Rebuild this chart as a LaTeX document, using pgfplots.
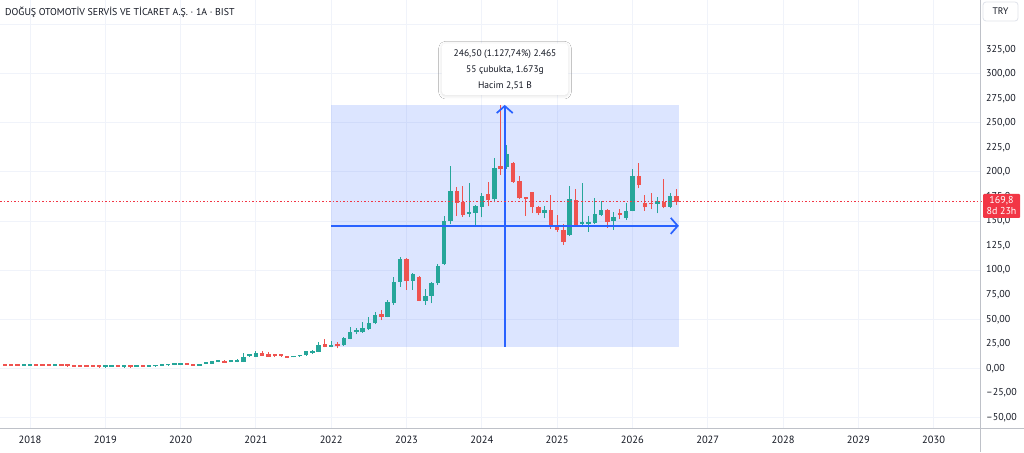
\documentclass[border=0pt]{standalone}
\usepackage{fontspec}
\setmainfont{PT Sans}
\usepackage{pgfplots}
\pgfplotsset{compat=1.18}
\usepackage{pgfplotstable}
\usetikzlibrary{arrows.meta,shadows.blur}

\definecolor{upc}{RGB}{38,166,154}
\definecolor{dnc}{RGB}{239,83,80}
\definecolor{txt}{RGB}{19,23,34}
\definecolor{gridc}{RGB}{240,243,250}
\definecolor{tvblue}{RGB}{41,98,255}
\definecolor{pricered}{RGB}{242,54,69}
\definecolor{axisc}{RGB}{190,193,200}
\definecolor{btnc}{RGB}{224,227,235}

% monthly candles, m = months since 2018-01
\pgfplotstableread{
m o h l c
-1 2.6 3.0 2.5 2.9
0 2.6 3.0 2.5 2.9
4 2.5 2.9 2.4 2.8
12 1.1 1.5 1.0 1.4
13 1.5 1.9 1.4 1.8
15 1.1 1.5 1.0 1.4
17 1.5 1.9 1.4 1.8
19 1.6 2.0 1.5 1.9
20 1.9 2.5 1.8 2.4
21 2.4 3.1 2.3 3.0
22 3.0 3.5 2.9 3.4
23 3.4 3.9 3.3 3.8
24 3.5 5.4 3.3 5.0
27 2.8 4.8 2.5 4.6
28 4.6 5.3 4.3 5.0
29 4.5 7.6 4.2 7.3
30 6.2 7.6 6.0 7.2
32 6.2 7.0 6.0 6.8
33 6.2 9.2 6.0 8.0
34 6.3 15.9 6.0 11.8
35 12.4 14.5 12.0 13.9
36 12.0 18.0 11.5 15.9
42 11.2 13.0 11.0 12.5
43 12.2 14.0 12.0 13.5
44 13.2 17.8 13.0 17.3
45 15.9 18.5 14.5 18.0
46 17.0 26.4 16.5 24.0
48 21.86 27.5 21.2 23.8
50 23.4 32.2 22.8 31.2
51 30.2 41.8 29.5 36.7
52 37.3 40.8 34.6 39.0
53 36.7 47.5 36.0 40.8
54 39.7 52.0 39.0 45.8
55 45.8 57.7 45.0 54.3
57 52.6 69.6 52.0 67.9
58 66.2 92.7 64.5 88.2
59 88.2 113.7 83.2 111.4
61 89.3 97.4 79.8 95.8
63 68.9 80.8 64.5 74.0
64 74.0 88.2 66.2 86.6
65 86.6 106.0 85.0 104.2
66 106.3 155.0 105.0 150.4
67 150.4 206.0 146.7 180.6
70 157.2 188.5 153.8 158.5
71 158.5 166.0 144.3 165.4
72 164.6 178.3 153.8 175.9
74 172.2 214.0 169.0 203.8
76 204.8 227.5 203.0 218.3
82 158.0 165.4 152.8 161.3
86 135.8 185.7 135.0 172.2
88 147.0 188.5 146.0 148.5
89 147.0 155.0 139.0 148.0
90 148.3 174.0 147.0 157.2
91 156.2 170.0 155.0 161.3
93 150.0 159.0 141.0 153.9
95 152.8 168.0 151.0 160.3
96 160.6 202.8 160.0 196.0
100 167.4 174.8 157.9 170.8
102 164.6 179.0 163.0 175.5
}\up

\pgfplotstableread{
m o h l c
-4 2.9 3.0 2.5 2.6
-3 2.9 3.1 2.5 2.6
-2 2.8 3.0 2.5 2.6
1 2.9 3.0 2.5 2.6
2 2.8 2.9 2.4 2.5
3 2.8 2.9 2.4 2.5
5 2.8 2.9 2.4 2.5
6 2.7 2.8 2.3 2.4
7 2.0 2.1 1.6 1.7
8 1.9 2.0 1.5 1.6
9 1.9 2.0 1.5 1.6
10 1.8 1.9 1.4 1.5
11 1.4 1.5 1.0 1.1
14 1.8 1.9 1.4 1.5
16 1.4 1.5 1.0 1.1
18 1.9 2.0 1.5 1.6
25 5.0 5.4 3.6 3.8
26 3.8 4.0 2.4 2.8
31 7.6 8.0 5.4 5.6
37 15.9 18.0 12.5 13.0
38 14.5 17.0 11.5 12.0
39 13.5 14.5 11.5 12.5
40 13.5 14.2 12.0 12.5
41 12.2 12.5 10.4 10.8
47 25.1 29.4 21.4 21.9
49 24.4 27.1 20.4 23.0
56 55.3 59.8 49.0 52.6
60 111.4 112.5 80.0 89.3
62 93.3 94.0 68.5 68.9
68 180.6 184.4 155.0 168.7
69 169.7 186.0 154.5 156.2
73 177.3 190.0 165.0 171.5
75 206.1 268.3 197.0 203.4
77 209.5 210.5 189.0 190.0
78 190.8 196.4 172.0 173.2
79 174.2 175.0 155.6 172.5
80 179.3 180.0 158.0 164.0
81 164.0 165.0 156.0 157.9
83 161.3 177.0 142.0 144.3
84 146.0 156.2 139.2 140.9
85 140.9 147.0 126.0 129.0
87 171.5 183.0 145.0 146.0
92 161.3 162.0 143.0 149.4
94 157.9 162.0 151.8 156.0
97 196.0 208.7 183.4 186.8
98 168.1 176.3 160.6 164.0
99 168.0 179.0 162.0 167.0
101 169.7 192.6 163.0 164.6
103 175.5 182.4 166.4 169.8
}\down

\begin{document}
\begin{tikzpicture}[x=1pt,y=1pt]
\path[use as bounding box, fill=white] (0,0) rectangle (1024,452);
\begin{axis}[
  at={(0pt,24pt)}, anchor=south west,
  scale only axis, width=980pt, height=428pt,
  xmin=-4.781, xmax=151.39, ymin=-60.83, ymax=375.24,
  axis line style={draw=none},
  tick style={draw=none},
  xtick={0,12,...,144},
  xticklabels={2018,2019,2020,2021,2022,2023,2024,2025,2026,2027,2028,2029,2030},
  xticklabel style={font=\fontsize{10.5}{12}\selectfont, text=txt, anchor=north, inner sep=0pt, yshift=-8pt},
  xmajorgrids,
  major grid style={draw=gridc, line width=1pt},
  ytick={-50,-25,0,25,50,75,100,125,150,175,200,225,250,275,300,325},
  yticklabels={{–50,00},{–25,00},{0,00},{25,00},{50,00},{75,00},{100,0},{125,0},{150,0},{175,0},{200,0},{225,0},{250,00},{275,00},{300,00},{325,00}},
  yticklabel pos=right,
  yticklabel style={font=\fontsize{10}{12}\selectfont, text=txt, anchor=west, inner sep=0pt, xshift=6pt},
  extra y ticks={-50,0,50,100,150,200,250,300,350},
  extra y tick labels={},
  extra y tick style={ymajorgrids=true, major grid style={draw=gridc, line width=1pt}, tick style={draw=none}},
]
% measurement box
\fill[tvblue, fill opacity=0.16] (axis cs:47.97,21.86) rectangle (axis cs:103.4,268.36);

% wicks
\addplot[draw=none, mark=none, forget plot,
  error bars/.cd, y dir=plus, y explicit, error mark=none,
  error bar style={draw=upc, line width=1pt}]
  table[x=m, y=l, y error plus expr={\thisrow{h}-\thisrow{l}}] {\up};
\addplot[draw=none, mark=none, forget plot,
  error bars/.cd, y dir=plus, y explicit, error mark=none,
  error bar style={draw=dnc, line width=1pt}]
  table[x=m, y=l, y error plus expr={\thisrow{h}-\thisrow{l}}] {\down};
% bodies
\addplot[draw=none, mark=none, forget plot,
  error bars/.cd, y dir=plus, y explicit, error mark=none,
  error bar style={draw=upc, line width=4.4pt}]
  table[x=m, y=o, y error plus expr={max(\thisrow{c}-\thisrow{o},1.8)}] {\up};
\addplot[draw=none, mark=none, forget plot,
  error bars/.cd, y dir=plus, y explicit, error mark=none,
  error bar style={draw=dnc, line width=4.4pt}]
  table[x=m, y=c, y error plus expr={max(\thisrow{o}-\thisrow{c},1.8)}] {\down};

% measurement arrows
\draw[draw=tvblue, line width=1.8pt, -{Straight Barb[length=7pt,width=16pt,line width=1.7pt]}] (axis cs:75.65,21.86) -- (axis cs:75.65,268.36);
\draw[draw=tvblue, line width=1.8pt, -{Straight Barb[length=7pt,width=16pt,line width=1.7pt]}] (axis cs:47.97,145.1) -- (axis cs:103.4,145.1);
\end{axis}

% last price line (close 169,8)
\draw[color=pricered, opacity=1, line width=1pt, dash pattern=on 1.5pt off 2pt] (0,250.4) -- (983,250.4);

% axis frame lines
\draw[axisc, line width=1pt] (980,0) -- (980,452);
\draw[axisc, line width=1pt] (0,24) -- (1024,24);

% title
\node[anchor=west, inner sep=0pt, text=txt, font=\fontsize{9.9}{11}\selectfont] at (5,440) {DOĞUŞ OTOMOTİV SERVİS VE TİCARET A.Ş. · 1A · BIST};

% currency button
\draw[btnc, line width=0.8pt, fill=white, rounded corners=3pt] (983,431) rectangle (1018,450);
\node[text=txt, font=\fontsize{9.5}{11}\selectfont, inner sep=0pt] at (1000.5,440.5) {TRY};

% last price label
\fill[pricered, rounded corners=1pt] (983,234) rectangle (1020,258);
\node[text=white, font=\fontsize{10}{12}\selectfont, inner sep=0pt] at (1001.5,251) {169,8};
\node[text=white, font=\fontsize{10}{12}\selectfont, inner sep=0pt] at (1001.5,240.5) {8d 23h};

% tooltip
\fill[white, rounded corners=4pt, blur shadow={shadow blur steps=8, shadow blur radius=3pt, shadow xshift=0pt, shadow yshift=-1pt, shadow opacity=12}] (441.7,357) rectangle (568.3,408.7);
\node[text=txt, font=\fontsize{9.5}{11}\selectfont, inner sep=0pt] at (505,398) {246,50 (1.127,74\%) 2.465};
\node[text=txt, font=\fontsize{9.5}{11}\selectfont, inner sep=0pt] at (505,382) {55 çubukta, 1.673g};
\node[text=txt, font=\fontsize{9.5}{11}\selectfont, inner sep=0pt] at (505,366) {Hacim 2,51 B};
\end{tikzpicture}
\end{document}
